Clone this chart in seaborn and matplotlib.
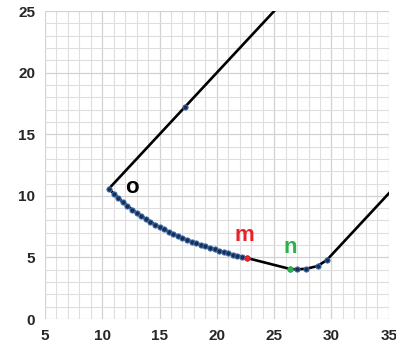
import matplotlib
matplotlib.use("Agg")
import matplotlib.pyplot as plt
import seaborn as sns
import pandas as pd
from matplotlib.ticker import MultipleLocator

sns.set_style("white")
plt.rcParams['font.family'] = ['Liberation Sans', 'DejaVu Sans']

# upper ray from o
ray_x = [10.6, 17.2, 25.2]
ray_y = [10.6, 17.2, 25.2]
ray_marks_x = [17.2]
ray_marks_y = [17.2]

# curve from o to m (dots)
curve_x = [10.6, 11.0, 11.4, 11.8, 12.2, 12.6, 13.0, 13.4, 13.8, 14.2, 14.6,
           15.0, 15.4, 15.8, 16.2, 16.6, 17.0, 17.4, 17.8, 18.2, 18.6, 19.0,
           19.4, 19.8, 20.2, 20.6, 21.0, 21.4, 21.8, 22.2, 22.6]
curve_y = [10.57, 10.18, 9.82, 9.49, 9.18, 8.89, 8.62, 8.36, 8.12, 7.89, 7.67,
           7.47, 7.27, 7.09, 6.91, 6.75, 6.59, 6.44, 6.29, 6.15, 6.02, 5.89,
           5.77, 5.66, 5.54, 5.44, 5.33, 5.23, 5.14, 5.05, 4.96]

# segment m -> n
mn_x = [22.6, 26.4]
mn_y = [4.96, 4.06]

# dots after n
tail_x = [26.4, 27.0, 27.8, 28.8, 29.6]
tail_y = [4.06, 4.03, 4.08, 4.30, 4.79]

# right ray
rray_x = [29.6, 35.6]
rray_y = [4.79, 10.79]

m_pt = (22.6, 4.96)
n_pt = (26.4, 4.06)

fig = plt.figure(figsize=(3.96, 3.46), dpi=100)
ax = fig.add_axes([0.1136, 0.078, 0.868, 0.890])

line_kw = dict(color="black", linewidth=1.9, sort=False, estimator=None, ax=ax)
sns.lineplot(x=ray_x, y=ray_y, **line_kw)
sns.lineplot(x=curve_x, y=curve_y, **line_kw)
sns.lineplot(x=mn_x, y=mn_y, **line_kw)
sns.lineplot(x=tail_x, y=tail_y, **line_kw)
sns.lineplot(x=rray_x, y=rray_y, **line_kw)

dot_kw = dict(color="#1c2f52", edgecolor="#3a6fb0", s=14, linewidth=0.7, zorder=5, ax=ax)
sns.scatterplot(x=curve_x, y=curve_y, **dot_kw)
sns.scatterplot(x=tail_x, y=tail_y, **dot_kw)
sns.scatterplot(x=ray_marks_x, y=ray_marks_y, **dot_kw)
sns.scatterplot(x=[m_pt[0]], y=[m_pt[1]], color="#e8212a", edgecolor="#e8212a", s=16, zorder=6, ax=ax)
sns.scatterplot(x=[n_pt[0]], y=[n_pt[1]], color="#2bb34a", edgecolor="#2bb34a", s=16, zorder=6, ax=ax)

ax.text(12.6, 10.7, "o", color="black", fontsize=16, fontweight="bold", ha="center", va="center")
ax.text(22.4, 6.8, "m", color="#e8212a", fontsize=16, fontweight="bold", ha="center", va="center")
ax.text(26.4, 5.8, "n", color="#2bb34a", fontsize=16, fontweight="bold", ha="center", va="center")

ax.set_xlim(5, 35)
ax.set_ylim(0, 25)
ax.xaxis.set_major_locator(MultipleLocator(5))
ax.yaxis.set_major_locator(MultipleLocator(5))
ax.xaxis.set_minor_locator(MultipleLocator(1))
ax.yaxis.set_minor_locator(MultipleLocator(1))
ax.grid(which="minor", color="#dedede", linewidth=0.8)
ax.grid(which="major", color="#d2d2d2", linewidth=0.9)
ax.set_axisbelow(True)
for s in ax.spines.values():
    s.set_visible(False)
ax.tick_params(which="major", length=4, color="#c8c8c8", width=0.9, labelsize=11, pad=3)
ax.tick_params(which="minor", length=0)
for lab in ax.get_xticklabels() + ax.get_yticklabels():
    lab.set_fontweight("bold")
ax.set_xlabel("")
ax.set_ylabel("")

fig.savefig("out.png", dpi=100)
